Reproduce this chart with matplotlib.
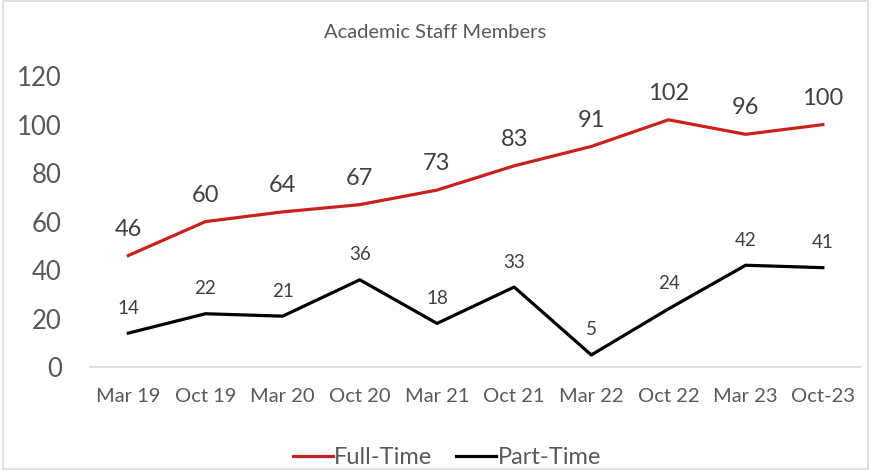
import matplotlib.pyplot as plt
from matplotlib.patches import Rectangle

plt.rcParams['font.family'] = ['Lato', 'DejaVu Sans']

# 数据
periods = ['Mar 19', 'Oct 19', 'Mar 20', 'Oct 20', 'Mar 21',
           'Oct 21', 'Mar 22', 'Oct 22', 'Mar 23', 'Oct-23']
full_time = [46, 60, 64, 67, 73, 83, 91, 102, 96, 100]
part_time = [14, 22, 21, 36, 18, 33, 5, 24, 42, 41]

text_color = '#595959'
red = '#C9211E'

fig = plt.figure(figsize=(8.71, 4.70), dpi=100)
ax = fig.add_axes([0.103, 0.219, 0.886, 0.619])

x = list(range(len(periods)))
ax.plot(x, full_time, color=red, linewidth=2.3, label='Full-Time', solid_joinstyle='round')
ax.plot(x, part_time, color='black', linewidth=2.3, label='Part-Time', solid_joinstyle='round')

# 数据标签
for xi, v in zip(x, full_time):
    ax.annotate(str(v), (xi, v), xytext=(0, 19), textcoords='offset points',
                ha='center', va='center', fontsize=17, color='#404040')
for xi, v in zip(x, part_time):
    ax.annotate(str(v), (xi, v), xytext=(0, 18), textcoords='offset points',
                ha='center', va='center', fontsize=13.5, color='#404040')

ax.set_xlim(-0.5, len(periods) - 0.5)
ax.set_ylim(0, 120)
ax.set_yticks(range(0, 121, 20))
ax.set_xticks(x)
ax.set_xticklabels(periods)
ax.tick_params(axis='y', labelsize=18.5, colors=text_color, length=0, pad=20)
ax.tick_params(axis='x', labelsize=14.5, colors=text_color, length=0, pad=15)

for side in ['top', 'right', 'left']:
    ax.spines[side].set_visible(False)
ax.spines['bottom'].set_color('#D9D9D9')
ax.spines['bottom'].set_linewidth(1.2)

fig.text(0.5, 0.93, 'Academic Staff Members', ha='center', va='center',
         fontsize=14.5, color=text_color)

fig.legend(loc='center', bbox_to_anchor=(0.513, 0.027), ncol=2, frameon=False,
           fontsize=17, labelcolor=text_color, handlelength=1.7, handletextpad=0.05,
           columnspacing=1.0)

# 外框
fig.patches.append(Rectangle((0.003, 0.003), 0.994, 0.994, transform=fig.transFigure,
                             fill=False, edgecolor='#D9D9D9', linewidth=1.2))

plt.savefig('out.png', dpi=100)
